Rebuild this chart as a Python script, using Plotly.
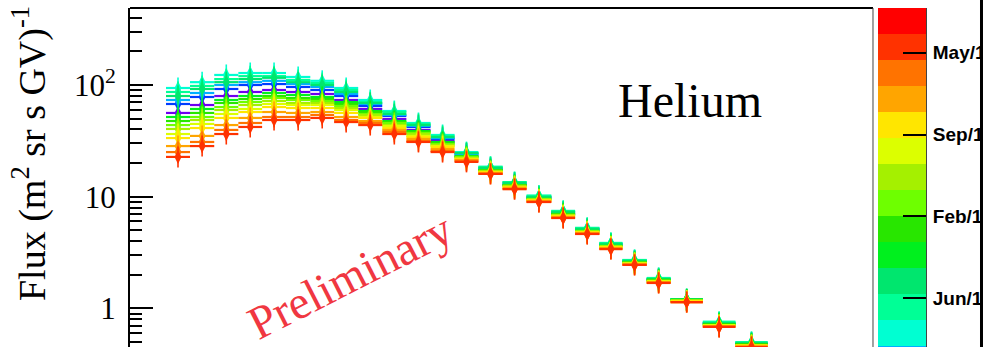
import bisect
import plotly.graph_objects as go

# Rigidity bin edges (GV)
rigidity_edges = [1.92, 2.15, 2.41, 2.70, 3.02, 3.38, 3.79, 4.24, 4.75, 5.32, 5.96, 6.68,
                  7.48, 8.37, 9.38, 10.5, 11.8, 13.2, 14.8, 16.5, 18.5, 20.7, 24.1, 28.1, 32.7]

# Helium flux per time period, (m^2 sr s GV)^-1, one value per rigidity bin
flux_2011_07 = [56.2, 66.2, 79.7, 86.6, 90.2, 86.6, 83.1, 73.4, 61.0, 49.6, 39.6, 31.5,
                23.1, 17.3, 12.7, 9.74, 7.00, 5.03, 3.70, 2.60, 1.80, 1.19, 0.725, 0.480]
flux_2011_10 = [67.6, 78.1, 92.1, 100, 102, 96.0, 90.2, 79.7, 64.9, 52.8, 42.1, 32.9,
                24.1, 17.7, 13.0, 9.94, 7.15, 5.14, 3.77, 2.66, 1.83, 1.19, 0.740, 0.490]
flux_2011_12 = [73.4, 84.8, 100, 106, 109, 102, 96.0, 83.1, 67.6, 53.9, 43.0, 33.5,
                24.1, 18.1, 13.3, 9.94, 7.30, 5.14, 3.77, 2.66, 1.83, 1.19, 0.740, 0.490]
flux_2012_03 = [94.0, 106, 123, 128, 128, 118, 109, 94.0, 73.4, 58.5, 45.7, 35.7,
                25.1, 18.5, 13.5, 10.2, 7.45, 5.25, 3.85, 2.71, 1.87, 1.21, 0.756, 0.500]
flux_2012_05 = [86.6, 98.0, 113, 120, 120, 111, 104, 90.2, 70.4, 57.3, 44.8, 35.0,
                24.6, 18.5, 13.5, 10.2, 7.45, 5.25, 3.85, 2.71, 1.87, 1.21, 0.756, 0.500]
flux_2012_08 = [79.7, 92.1, 106, 113, 116, 106, 100, 86.6, 69.0, 55.0, 43.8, 34.2,
                24.6, 18.1, 13.3, 9.94, 7.30, 5.14, 3.77, 2.66, 1.83, 1.21, 0.740, 0.490]
flux_2012_10 = [51.7, 61.0, 73.4, 79.7, 84.8, 81.4, 78.1, 70.4, 58.5, 47.6, 38.7, 30.9,
                23.1, 17.3, 12.7, 9.54, 7.00, 4.93, 3.62, 2.60, 1.80, 1.19, 0.725, 0.480]
flux_2012_12 = [47.6, 56.2, 69.0, 74.9, 79.7, 76.5, 74.9, 67.6, 57.3, 46.6, 38.0, 30.3,
                22.7, 17.3, 12.7, 9.54, 7.00, 4.93, 3.62, 2.60, 1.80, 1.19, 0.725, 0.480]
flux_2013_03 = [43.8, 51.7, 63.5, 70.4, 76.5, 73.4, 71.9, 64.9, 55.0, 45.7, 37.2, 29.6,
                22.7, 17.0, 12.5, 9.54, 6.86, 4.93, 3.62, 2.55, 1.76, 1.17, 0.710, 0.470]
flux_2013_05 = [40.4, 48.6, 59.7, 66.2, 71.9, 69.0, 69.0, 62.2, 53.9, 43.8, 36.4, 29.0,
                22.2, 17.0, 12.5, 9.35, 6.86, 4.83, 3.55, 2.55, 1.76, 1.17, 0.710, 0.470]
flux_2013_08 = [36.4, 44.8, 55.0, 61.0, 67.6, 66.2, 66.2, 59.7, 51.7, 43.0, 35.0, 28.4,
                21.8, 16.6, 12.2, 9.35, 6.72, 4.83, 3.55, 2.55, 1.76, 1.17, 0.710, 0.470]
flux_2013_10 = [33.5, 41.2, 50.7, 57.3, 63.5, 62.2, 62.2, 56.2, 50.7, 41.2, 34.2, 27.9,
                21.8, 16.6, 12.2, 9.35, 6.72, 4.83, 3.55, 2.50, 1.72, 1.17, 0.696, 0.461]
flux_2014_01 = [28.4, 35.0, 43.8, 50.7, 57.3, 56.2, 57.3, 51.7, 47.6, 39.6, 32.9, 26.7,
                21.3, 16.3, 12.0, 9.15, 6.58, 4.73, 3.47, 2.50, 1.72, 1.14, 0.696, 0.461]
flux_2014_03 = [25.1, 30.9, 39.6, 45.7, 51.7, 51.7, 53.9, 48.6, 45.7, 38.0, 31.5, 25.7,
                20.9, 16.0, 11.7, 8.97, 6.45, 4.64, 3.40, 2.45, 1.69, 1.14, 0.682, 0.451]
flux_2014_06 = [22.7, 28.4, 36.4, 42.1, 48.6, 48.6, 50.7, 46.6, 43.8, 36.4, 30.9, 25.1,
                20.5, 16.0, 11.7, 8.97, 6.45, 4.64, 3.40, 2.45, 1.69, 1.14, 0.682, 0.451]

period_dates = ["2011-07-20", "2011-10-05", "2011-12-20", "2012-03-05", "2012-05-18",
                "2012-08-01", "2012-10-14", "2012-12-28", "2013-03-12", "2013-05-25",
                "2013-08-08", "2013-10-21", "2014-01-04", "2014-03-19", "2014-06-01"]
period_fluxes = [flux_2011_07, flux_2011_10, flux_2011_12, flux_2012_03, flux_2012_05,
                 flux_2012_08, flux_2012_10, flux_2012_12, flux_2013_03, flux_2013_05,
                 flux_2013_08, flux_2013_10, flux_2014_01, flux_2014_03, flux_2014_06]

# Time palette: bands of the colour scale, earliest first
band_edges = ["2011-06-18", "2011-08-31", "2011-11-14", "2012-01-27", "2012-04-11",
              "2012-06-24", "2012-09-07", "2012-11-20", "2013-02-03", "2013-04-18",
              "2013-07-02", "2013-09-14", "2013-11-28", "2014-02-11", "2014-04-26",
              "2014-07-10", "2014-09-22"]
band_colors = ["rgb(110,0,240)", "rgb(0,60,255)", "rgb(0,175,255)", "rgb(0,255,210)",
               "rgb(0,255,150)", "rgb(0,230,110)", "rgb(0,240,30)", "rgb(40,230,0)",
               "rgb(110,255,0)", "rgb(165,240,0)", "rgb(220,255,0)", "rgb(255,230,0)",
               "rgb(255,165,0)", "rgb(255,115,0)", "rgb(255,50,0)", "rgb(255,0,0)"]
time_ticks = ["2012-06-12", "2013-02-03", "2013-09-24", "2014-05-17"]

flux_major_ticks = [1, 10, 100]
flux_major_text = ["1", "10", "10<sup>2</sup>"]
flux_minor_ticks = [0.5, 0.6, 0.7, 0.8, 0.9, 2, 3, 4, 5, 6, 7, 8, 9,
                    20, 30, 40, 50, 60, 70, 80, 90, 200, 300, 400]

SERIF = "Liberation Serif, Times New Roman, serif"
MAIN_DOMAIN = [0.0, 0.87104]
CBAR_DOMAIN = [0.87691, 0.93318]


def band_color(day):
    k = bisect.bisect_right(band_edges, day) - 1
    k = min(max(k, 0), len(band_colors) - 1)
    return band_colors[k]


lo = rigidity_edges[:-1]
hi = rigidity_edges[1:]
centers = [(a * b) ** 0.5 for a, b in zip(lo, hi)]
err_plus = [b - c for b, c in zip(hi, centers)]
err_minus = [c - a for a, c in zip(lo, centers)]

fig = go.Figure()

for day, flux in zip(period_dates, period_fluxes):
    col = band_color(day)
    fig.add_trace(go.Scatter(
        x=centers, y=flux, mode="markers",
        marker=dict(symbol="diamond-tall", size=10, color=col, line=dict(width=0)),
        error_x=dict(type="data", symmetric=False, array=err_plus, arrayminus=err_minus,
                     color=col, thickness=2.2, width=0),
        hoverinfo="skip", showlegend=False))
    fig.add_trace(go.Scatter(
        x=centers, y=flux, mode="markers",
        marker=dict(symbol="line-ns", size=15, line=dict(width=1.6, color=col)),
        hoverinfo="skip", showlegend=False))

# colour scale of the time axis
n_bands = len(band_colors)
scale = []
for k, c in enumerate(band_colors):
    scale.append([k / n_bands, c])
    scale.append([(k + 1) / n_bands, c])
fig.add_trace(go.Heatmap(
    x=[0, 1], y=band_edges, z=[[k] for k in range(n_bands)],
    zmin=-0.5, zmax=n_bands - 0.5, colorscale=scale, showscale=False,
    xaxis="x2", yaxis="y2", hoverinfo="skip"))

fig.update_layout(
    width=983, height=347,
    margin=dict(l=130, r=0, t=8, b=0, autoexpand=False),
    paper_bgcolor="white", plot_bgcolor="white",
    template="none",
    xaxis=dict(type="log", range=[0.20962, 1.73029], domain=MAIN_DOMAIN, visible=False,
               showgrid=False, zeroline=False, anchor="y"),
    yaxis=dict(type="log", range=[-0.34557, 2.68934], domain=[0, 1], anchor="x",
               showline=True, linecolor="black", linewidth=2,
               ticks="inside", ticklen=23, tickwidth=1.5, tickcolor="black",
               tickmode="array", tickvals=flux_major_ticks, ticktext=flux_major_text,
               tickfont=dict(family=SERIF, size=31, color="black"),
               ticklabelstandoff=6,
               minor=dict(ticks="inside", ticklen=12, tickwidth=1.5, tickcolor="black",
                          tickmode="array", tickvals=flux_minor_ticks, showgrid=False),
               showgrid=False, zeroline=False, automargin=False),
    xaxis2=dict(domain=CBAR_DOMAIN, range=[0, 1], visible=False, anchor="y2",
                showgrid=False, zeroline=False),
    yaxis2=dict(type="date", domain=[0, 1], anchor="x2", side="right",
                range=["2012-01-25", "2014-09-22"],
                tickmode="array", tickvals=time_ticks, tickformat="%b/%y",
                ticks="inside", ticklen=23, tickwidth=2, tickcolor="black",
                tickfont=dict(family="Liberation Sans Narrow, Liberation Sans, Arial",
                              size=19, color="black", weight="bold"),
                ticklabelstandoff=2,
                showline=True, linecolor="#444", linewidth=1,
                showgrid=False, zeroline=False, automargin=False),
    shapes=[
        dict(type="line", xref="paper", yref="paper", x0=0, x1=MAIN_DOMAIN[1], y0=1, y1=1,
             line=dict(color="black", width=2)),
        dict(type="line", xref="paper", yref="paper", x0=MAIN_DOMAIN[1], x1=MAIN_DOMAIN[1],
             y0=0, y1=1, line=dict(color="#444", width=1)),
        dict(type="line", xref="paper", yref="paper", x0=0.99824, x1=0.99824, y0=-0.05, y1=1.05,
             line=dict(color="black", width=3)),
    ],
    annotations=[
        dict(text="Helium", xref="paper", yref="paper", x=0.6565, y=0.7286,
             xanchor="center", yanchor="middle",
             showarrow=False, font=dict(family=SERIF, size=48, color="black")),
        dict(text="Preliminary", xref="paper", yref="paper", x=0.2579, y=0.2100,
             xanchor="center", yanchor="middle",
             showarrow=False, textangle=-27,
             font=dict(family=SERIF, size=47, color="rgb(240,55,65)")),
        dict(text="Flux (m<sup>2</sup> sr s GV)<sup>-1</sup>", xref="paper", yref="paper",
             x=-0.1184, y=0.5693, xanchor="center", yanchor="middle",
             showarrow=False, textangle=-90,
             font=dict(family=SERIF, size=38, color="black")),
    ],
)

fig.write_html("out.html")
